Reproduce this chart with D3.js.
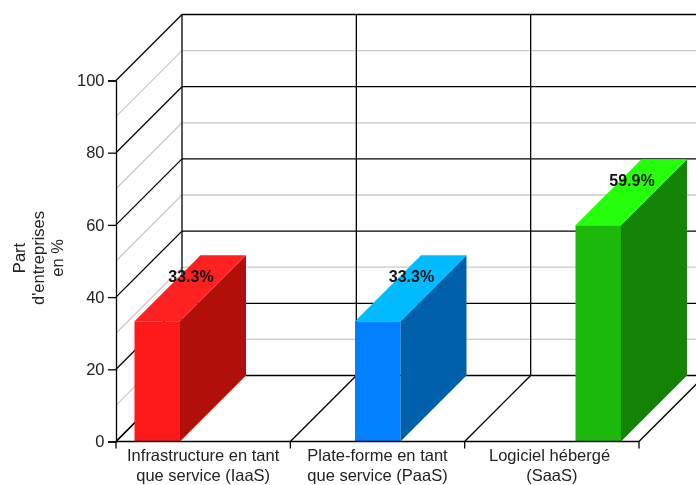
<!DOCTYPE html>
<html><head><meta charset="utf-8">
<script src="https://cdn.jsdelivr.net/npm/d3@7"></script>
<style>html,body{margin:0;padding:0;background:#fff}svg{display:block;font-family:"Liberation Sans",Arial,sans-serif;filter:blur(0.35px)}</style>
</head><body><div id="c"></div>
<script>
const categories = [["Infrastructure en tant","que service (IaaS)"],["Plate-forme en tant","que service (PaaS)"],["Logiciel hébergé\u00a0","(SaaS)"]];
const values = [33.3,33.3,59.9];
const valueLabels = ["33.3%","33.3%","59.9%"];
const majorTicks = [0,20,40,60,80,100];
const minorTicks = [10,30,50,70,90];
const titleLines = ["Part","d'entreprises","en %"];
const frontColors = ["#ff1a1a","#0080ff","#1cb80c"];
const sideColors = ["#b00f0a","#0060aa","#158208"];
const topColors = ["#ff2020","#00bbff","#26ff0a"];

const W=696,H=485,depth=66,barW=45.5;
const svg=d3.select("#c").append("svg").attr("width",W).attr("height",H).attr("viewBox",`0 0 ${W} ${H}`);
const y=d3.scaleLinear().domain([0,100]).range([441.5,80.5]);
const x=d3.scaleBand().domain([0,1,2]).range([116,639]);
const xBar=d3.scalePoint().domain([0,1,2]).range([134.5,575.5]);
const x0=x.range()[0], x1=x.range()[1];
const g=svg.append("g");
const line=(a,b,c,d,col,w=1.3)=>g.append("line").attr("x1",a).attr("y1",b).attr("x2",c).attr("y2",d).attr("stroke",col).attr("stroke-width",w);

minorTicks.forEach(t=>{
  line(x0,y(t),x0+depth,y(t)-depth,"#c8c8c8");
  line(x0+depth,y(t)-depth,W+10,y(t)-depth,"#c8c8c8");
});
majorTicks.forEach(t=>{
  line(x0,y(t),x0+depth,y(t)-depth,"#000");
  line(x0+depth,y(t)-depth,W+10,y(t)-depth,"#000");
});
const bounds=[0,1,2].map(i=>x(i)).concat([x1]);
bounds.forEach(b=>{
  line(b+depth,y(100)-depth,b+depth,y(0)-depth,"#000");
  line(b,y(0),b+depth,y(0)-depth,"#000");
});
const yAxis=d3.axisLeft(y).tickValues(majorTicks).tickSize(8).tickPadding(3.5);
const ya=svg.append("g").attr("transform",`translate(${x0},0)`).call(yAxis);
ya.selectAll("path").attr("stroke","#000").attr("stroke-width",1.3);
ya.selectAll("line").attr("stroke","#000").attr("stroke-width",1.3);
ya.selectAll("text").attr("fill","#222").style("font-size","16.5px").style("font-family","Liberation Sans");

const bars=svg.append("g");
values.forEach((v,i)=>{
  const a=xBar(i),b=a+barW,t=y(v),z=y(0);
  bars.append("rect").attr("x",a).attr("y",t).attr("width",barW).attr("height",z-t).attr("fill",frontColors[i]);
  bars.append("path").attr("d",`M${b},${t}L${b+depth},${t-depth}L${b+depth},${z-depth}L${b},${z}Z`).attr("fill",sideColors[i]);
  bars.append("path").attr("d",`M${a},${t}L${a+depth},${t-depth}L${b+depth},${t-depth}L${b},${t}Z`).attr("fill",topColors[i]);
});
const xa=svg.append("g");
xa.append("line").attr("x1",x0).attr("x2",x1).attr("y1",y(0)).attr("y2",y(0)).attr("stroke","#000").attr("stroke-width",1.3);
bounds.forEach(b=>xa.append("line").attr("x1",b).attr("x2",b).attr("y1",y(0)).attr("y2",y(0)+7).attr("stroke","#000").attr("stroke-width",1.3));
categories.forEach((c,i)=>{
  const t=xa.append("text").attr("text-anchor","middle").attr("fill","#222").style("font-size","16.5px");
  c.forEach((s,j)=>t.append("tspan").attr("x",x(i)+x.bandwidth()/2).attr("y",460.5+j*20).text(s));
});
values.forEach((v,i)=>{
  svg.append("text").attr("x",xBar(i)+56.5).attr("y",y(v)-39).attr("text-anchor","middle").attr("fill","#111")
    .style("font-size","16px").style("font-weight","bold").text(valueLabels[i]);
});
const tt=svg.append("text").attr("transform","translate(0,258) rotate(-90)").attr("text-anchor","middle").attr("fill","#222").style("font-size","16.5px");
titleLines.forEach((s,j)=>tt.append("tspan").attr("x",0).attr("y",25+j*19).text(s));
</script></body></html>
